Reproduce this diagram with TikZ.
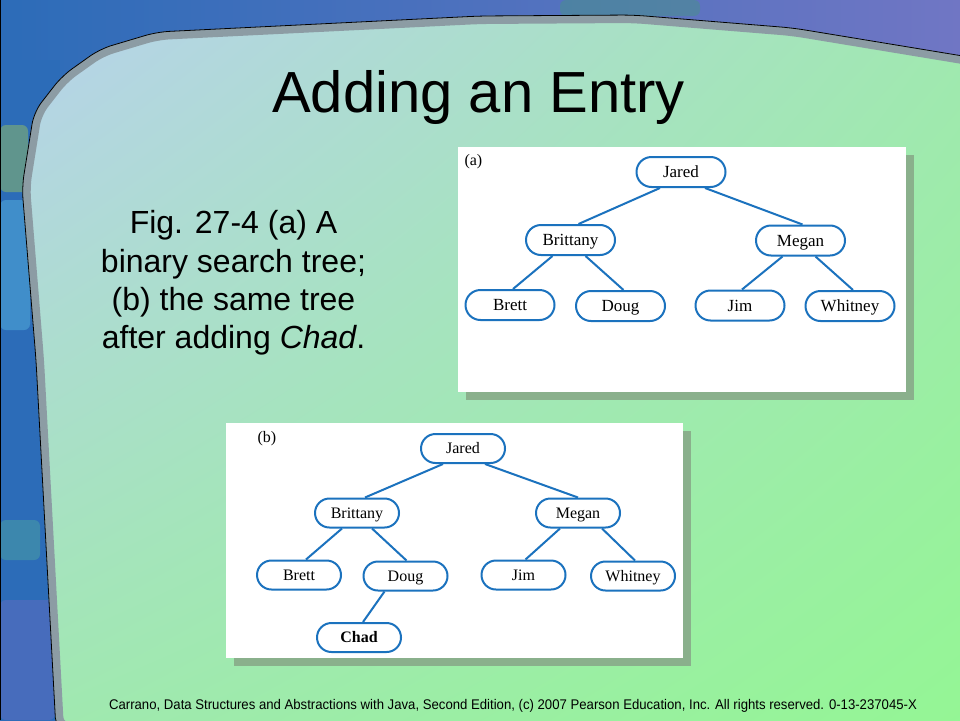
\documentclass[tikz,border=0pt]{standalone}
\usepackage{fontspec}
\usepackage{graphicx}
\setmainfont{Liberation Serif}
\newfontfamily\slidefont{Liberation Sans}
\usetikzlibrary{shapes.misc,shadings}

\definecolor{treeblue}{RGB}{27,114,190}
\definecolor{panelblue}{RGB}{184,210,236}
\definecolor{panelteal}{RGB}{160,232,176}
\definecolor{panelgreen}{RGB}{148,246,148}
\definecolor{rimgrey}{RGB}{140,156,164}
\definecolor{shadowgreen}{RGB}{138,176,140}
\definecolor{texblue}{RGB}{44,108,184}
\definecolor{texpurple}{RGB}{112,118,196}

\tikzset{
    bst/.style={draw=treeblue, line width=2pt, rounded rectangle, inner sep=0pt, text=black},
    bsta/.style={bst, minimum width=89pt, minimum height=30pt, text height=14pt, text depth=2.6pt,
        font=\fontsize{17}{20}\selectfont},
    bstb/.style={bst, minimum width=84pt, minimum height=29pt, text height=13.2pt, text depth=2.4pt,
        font=\fontsize{16}{19}\selectfont},
    bstedge/.style={draw=treeblue, line width=2pt},
    captext/.style={anchor=base, font=\slidefont\fontsize{32}{38}\selectfont},
    blob/.style={rounded corners=6pt, opacity=0.45}
}

\def\panelpath{[rounded corners=12pt] (56,730) -- (36,360) -- (22,187) -- (34,112) -- (62,76)
    -- (100,49) -- (157,32) -- (480,16) -- (633,15) -- (793,28) -- (975,58)
    -- (975,730) -- cycle}

\begin{document}
\begin{tikzpicture}[x=1pt,y=-1pt]
    \useasboundingbox (0,0) rectangle (960,720);

    % textured frame
    \shade[left color=texblue, right color=texpurple] (0,0) rectangle (960,720);
    \fill[texblue] (0,60) rectangle (60,720);
    \fill[blob, fill={rgb,255:red,160;green,200;blue,90}] (0,125) rectangle (28,192);
    \fill[blob, fill={rgb,255:red,90;green,185;blue,225}] (0,200) rectangle (30,330);
    \fill[blob, fill={rgb,255:red,80;green,170;blue,160}] (0,520) rectangle (40,560);
    \fill[blob, fill={rgb,255:red,105;green,110;blue,195}] (0,600) rectangle (55,720);
    \fill[blob, fill={rgb,255:red,70;green,150;blue,130}] (560,0) rectangle (700,16);
    \draw[black, line width=2pt] (0,0) -- (0,720);

    % panel
    \shade[upper left=panelblue, upper right=panelteal, lower left=panelteal, lower right=panelgreen] \panelpath;
    \begin{scope}
        \clip \panelpath;
        \draw[rimgrey, line width=16pt] \panelpath;
    \end{scope}
    \draw[black, line width=0.8pt] \panelpath;

    \node[anchor=base, font=\slidefont\fontsize{58}{70}\selectfont] (title) at (478.5,112) {Adding an Entry};

    \foreach \y/\t [count=\i] in {233/{Fig. 27-4 (a) A}, 272.5/{binary search tree;},
        310/{(b) the same tree}, 348.5/{after adding \textit{Chad}.}}
        \node[captext] (cap\i) at (233.5,\y) {\t};

    % figure (a)
    \fill[shadowgreen] (466,155) rectangle (914,400);
    \fill[white] (458,147) rectangle (906,392);
    \node[anchor=base west, font=\fontsize{16}{19}\selectfont] (alab) at (461,165) {(a)};
    \node[bsta] (aJ) at (681,172) {Jared};
    \node[bsta] (aBy) at (570.5,240) {Brittany};
    \node[bsta] (aM) at (800.5,240.5) {Megan};
    \node[bsta] (aBt) at (510,305) {Brett};
    \node[bsta] (aD) at (620.5,306) {Doug};
    \node[bsta] (aJi) at (740,305.5) {Jim};
    \node[bsta] (aW) at (850,306) {Whitney};
    \foreach \p/\c/\s/\e in {aJ/aBy/-21/8, aJ/aM/24/2, aBy/aBt/-18/3, aBy/aD/15/3, aM/aJi/-18/2, aM/aW/15/3}
        \draw[bstedge] ([xshift=\s pt]\p.south) -- ([xshift=\e pt]\c.north);

    % figure (b)
    \fill[shadowgreen] (234,431) rectangle (691,666);
    \fill[white] (226,423) rectangle (683,658);
    \node[anchor=base west, font=\fontsize{16}{19}\selectfont] (blab) at (254,442) {(b)};
    \node[bstb] (bJ) at (463,448.5) {Jared};
    \node[bstb] (bBy) at (357,513) {Brittany};
    \node[bstb] (bM) at (578,513) {Megan};
    \node[bstb] (bBt) at (299,575) {Brett};
    \node[bstb] (bD) at (405.5,576) {Doug};
    \node[bstb] (bJi) at (523.5,575) {Jim};
    \node[bstb] (bW) at (633,576) {Whitney};
    \node[bstb, font=\fontsize{16}{19}\selectfont\bfseries] (bC) at (359,637.5) {Chad};
    \foreach \p/\c/\s/\e in {bJ/bBy/-20/8, bJ/bM/22/0, bBy/bBt/-15/7, bBy/bD/15/1, bM/bJi/-18/2, bM/bW/24/2, bD/bC/-21/4}
        \draw[bstedge] ([xshift=\s pt]\p.south) -- ([xshift=\e pt]\c.north);

    \node[anchor=base, font=\slidefont\fontsize{14}{16}\selectfont] (credit) at (513,709)
        {\scalebox{0.94}[1]{Carrano, Data Structures and Abstractions with Java, Second Edition, (c) 2007 Pearson Education, Inc. All rights reserved. 0-13-237045-X}};
\end{tikzpicture}
\end{document}
